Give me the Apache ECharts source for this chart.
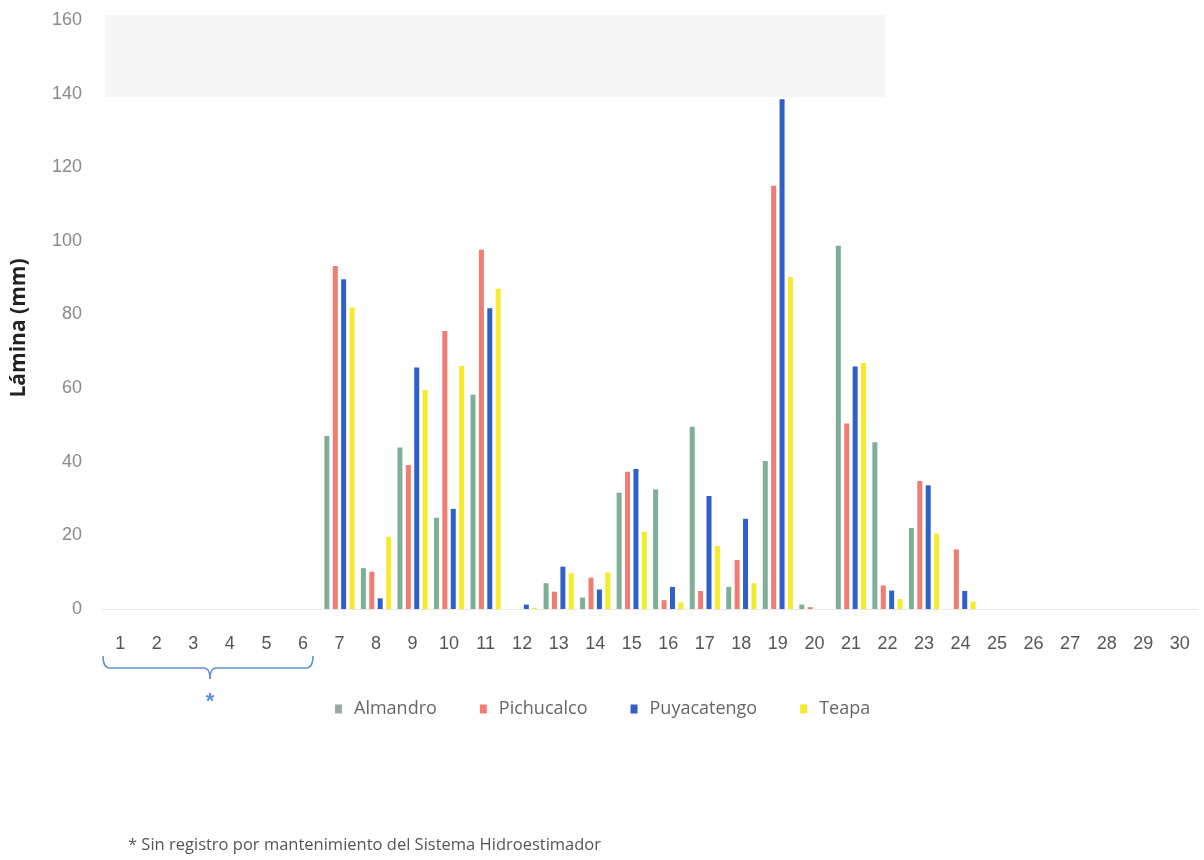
<!DOCTYPE html>
<html>
<head>
<meta charset="utf-8">
<script src="https://cdn.jsdelivr.net/npm/echarts@6/dist/echarts.min.js"></script>
<style>
  html, body { margin: 0; padding: 0; background: #ffffff; }
  #chart { width: 1204px; height: 860px; }
</style>
</head>
<body>
<div id="chart"></div>
<script>
// Daily rainfall depth (mm) per station, days 1-30
const days = ['1','2','3','4','5','6','7','8','9','10','11','12','13','14','15','16','17','18','19','20','21','22','23','24','25','26','27','28','29','30'];
const almandro    = [null,null,null,null,null,null, 47.0, 11.1, 43.9, 24.8, 58.2, 0,   7.0, 3.1, 31.6, 32.5, 49.5, 6.0, 40.2, 1.2, 98.7, 45.3, 22.0, 0,    0,0,0,0,0,0];
const pichucalco  = [null,null,null,null,null,null, 93.2, 10.1, 39.1, 75.5, 97.6, 0,   4.7, 8.5, 37.3, 2.4,  4.9, 13.3, 115.0, 0.5, 50.4, 6.4, 34.8, 16.2, 0,0,0,0,0,0];
const puyacatengo = [null,null,null,null,null,null, 89.6, 2.9,  65.6, 27.2, 81.7, 1.2, 11.5, 5.3, 38.0, 6.0, 30.7, 24.5, 138.5, 0,  65.9, 5.0, 33.6, 4.9,  0,0,0,0,0,0];
const teapa       = [null,null,null,null,null,null, 81.9, 19.6, 59.5, 66.0, 87.0, 0.3, 9.7, 9.9, 21.0, 1.8, 17.1, 7.0, 90.2, 0,   66.8, 2.7, 20.5, 2.0,  0,0,0,0,0,0];
const yTicks = [0, 20, 40, 60, 80, 100, 120, 140, 160];

const stations = [
  { name: 'Almandro',    data: almandro,    color: '#7fae96', legendColor: '#9aaba2' },
  { name: 'Pichucalco',  data: pichucalco,  color: '#f07c72', legendColor: '#f07c72' },
  { name: 'Puyacatengo', data: puyacatengo, color: '#2f5fc8', legendColor: '#2f5fc8' },
  { name: 'Teapa',       data: teapa,       color: '#f6ea2c', legendColor: '#f6ea2c' }
];

const chart = echarts.init(document.getElementById('chart'), null, { renderer: 'canvas' });

const bracketColor = '#5b8fd6';
const bracketStyle = { stroke: bracketColor, lineWidth: 1.5, fill: null };

chart.setOption({
  backgroundColor: '#ffffff',
  animation: false,
  grid: { left: 102, right: 6, top: 20, bottom: 251, containLabel: false },
  legend: {
    left: 330, top: 695,
    itemWidth: 7, itemHeight: 9, itemGap: 43,
    icon: 'rect',
    textStyle: { color: '#666', fontSize: 18, fontFamily: 'Open Sans', padding: [0, 0, 0, 7] },
    data: stations.map(s => ({ name: s.name, itemStyle: { color: s.legendColor } }))
  },
  xAxis: {
    type: 'category',
    data: days,
    axisLine: { show: true, lineStyle: { color: '#e8e8e8', width: 1 } },
    axisTick: { show: false },
    axisLabel: { color: '#555', fontSize: 18, fontFamily: 'Liberation Sans', margin: 26, interval: 0 }
  },
  yAxis: {
    type: 'value',
    min: yTicks[0], max: yTicks[yTicks.length - 1], interval: 20,
    axisLine: { show: false },
    axisTick: { show: false },
    splitLine: { show: false },
    axisLabel: { color: '#8a8a8a', fontSize: 18, fontFamily: 'Liberation Sans', margin: 20 }
  },
  series: stations.map(s => ({
    name: s.name,
    type: 'bar',
    data: s.data,
    barWidth: 5,
    barGap: '68%',
    itemStyle: { color: s.color }
  })),
  graphic: [
    // faint band across the top of the plot
    { type: 'rect', z: -10, silent: true,
      shape: { x: 105, y: 15, width: 780, height: 82 },
      style: { fill: '#f5f5f5' } },
    // axis title
    { type: 'text', x: 19, y: 328, rotation: Math.PI / 2, silent: true,
      style: { text: 'Lámina (mm)', fill: '#222', font: 'bold 21px "Open Sans"',
               align: 'center', verticalAlign: 'middle' } },
    // bracket grouping days 1-6
    { type: 'bezierCurve', silent: true,
      shape: { x1: 103, y1: 656, x2: 110, y2: 668, cpx1: 103, cpy1: 668 }, style: bracketStyle },
    { type: 'line', silent: true,
      shape: { x1: 110, y1: 668, x2: 204, y2: 668 }, style: bracketStyle },
    { type: 'bezierCurve', silent: true,
      shape: { x1: 204, y1: 668, x2: 210, y2: 679, cpx1: 210, cpy1: 668 }, style: bracketStyle },
    { type: 'bezierCurve', silent: true,
      shape: { x1: 216, y1: 668, x2: 210, y2: 679, cpx1: 210, cpy1: 668 }, style: bracketStyle },
    { type: 'line', silent: true,
      shape: { x1: 216, y1: 668, x2: 306, y2: 668 }, style: bracketStyle },
    { type: 'bezierCurve', silent: true,
      shape: { x1: 306, y1: 668, x2: 313, y2: 656, cpx1: 313, cpy1: 668 }, style: bracketStyle },
    { type: 'text', x: 210, y: 702, silent: true,
      style: { text: '*', fill: bracketColor, font: 'bold 22px "Liberation Sans"',
               align: 'center', verticalAlign: 'middle' } },
    // footnote
    { type: 'text', x: 128, y: 845, silent: true,
      style: { text: '* Sin registro por mantenimiento del Sistema Hidroestimador', fill: '#555',
               font: '16.5px "Open Sans"', align: 'left', verticalAlign: 'middle' } }
  ]
});
</script>
</body>
</html>
